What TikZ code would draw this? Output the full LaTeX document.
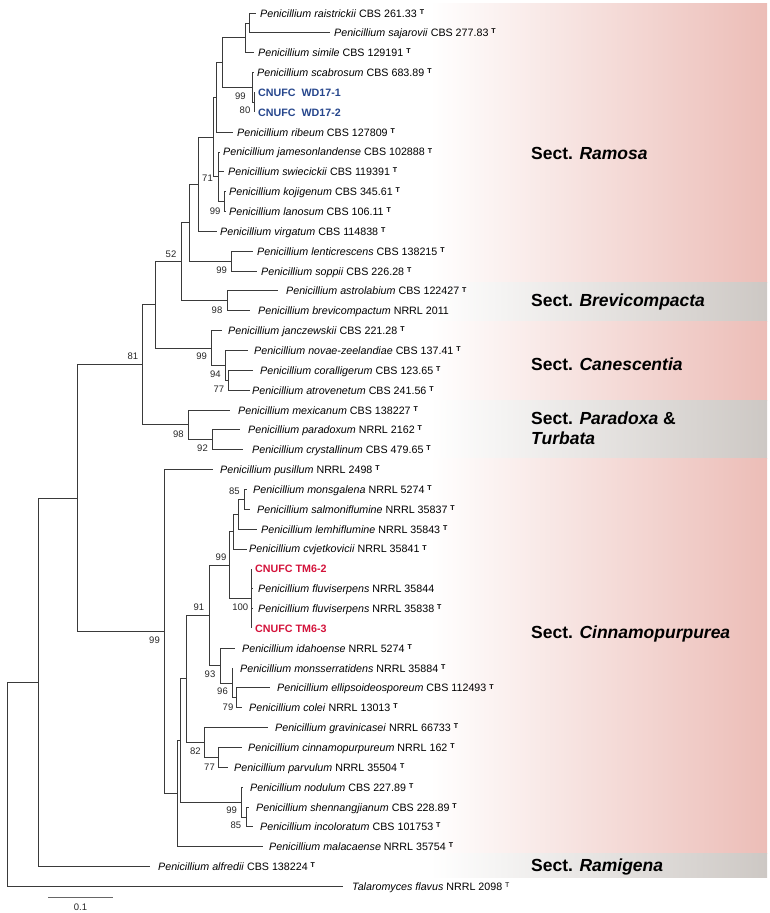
\documentclass[tikz,border=0pt]{standalone}
\usepackage{fontspec}
\setmainfont{Liberation Sans}
\definecolor{pinkR}{HTML}{ECBDB7}
\definecolor{grayR}{HTML}{CDC8C4}
\definecolor{cblue}{HTML}{26468C}
\definecolor{cred}{HTML}{D3123A}
\definecolor{brc}{HTML}{3A3A3A}
\newcommand\tsup{\raisebox{2.9pt}{\fontsize{7}{7}\selectfont\bfseries T}}
\newcommand\Pn[1]{\textit{Penicillium #1}}
\newcommand\leaf[5]{\coordinate (#1) at (#2,{ry(#3)});
  \node[sp] (#1l) at (#4,{ry(#3)+4}) {#5};}
\begin{document}
\begin{tikzpicture}[x=1pt,y=-1pt,
  declare function={ry(\i)=13+(\i-1)*19.85;},
  sp/.style={anchor=base west,inner sep=0pt,font=\fontsize{10.7}{12}\selectfont},
  bs/.style={inner sep=0pt,anchor=center,font=\fontsize{9.5}{10}\selectfont,text=black!85},
  sect/.style={anchor=base west,inner sep=0pt,font=\bfseries\fontsize{17.5}{20}\selectfont},
  br/.style={draw=brc,line width=0.85pt},
  pband/.style={left color=white,right color=pinkR,draw=none},
  gband/.style={left color=white,right color=grayR,draw=none}]
\useasboundingbox (0,0) rectangle (770,913);
% background bands
\shade[pband] (430,3) rectangle (767,282);
\shade[gband] (430,282) rectangle (767,321.5);
\shade[pband] (430,321.5) rectangle (767,400);
\shade[gband] (430,400) rectangle (767,458);
\shade[pband] (430,458) rectangle (767,853);
\shade[gband] (430,853) rectangle (767,877);
% section labels
\node[sect] (s1) at (531,159.5) {Sect. \textit{Ramosa}};
\node[sect] (s2) at (531,306.5) {Sect. \textit{Brevicompacta}};
\node[sect] (s3) at (531,370.5) {Sect. \textit{Canescentia}};
\node[sect] (s4) at (531,424.5) {Sect. \textit{Paradoxa} \&};
\node[sect] (s4b) at (531,444.8) {\textit{Turbata}};
\node[sect] (s5) at (531,638.5) {Sect. \textit{Cinnamopurpurea}};
\node[sect] (s6) at (531,871.5) {Sect. \textit{Ramigena}};
% leaves
\leaf{t1}{256}{1}{260}{\Pn{raistrickii} CBS 261.33 \tsup}
\leaf{t2}{330}{2}{334}{\Pn{sajarovii} CBS 277.83 \tsup}
\leaf{t3}{254}{3}{258}{\Pn{simile} CBS 129191 \tsup}
\leaf{t4}{254}{4}{257}{\Pn{scabrosum} CBS 683.89 \tsup}
\leaf{t5}{254}{5}{258}{\textcolor{cblue}{\bfseries CNUFC\ \ WD17-1}}
\leaf{t6}{254}{6}{258}{\textcolor{cblue}{\bfseries CNUFC\ \ WD17-2}}
\leaf{t7}{233}{7}{237}{\Pn{ribeum} CBS 127809 \tsup}
\leaf{t8}{220}{8}{223}{\Pn{jamesonlandense} CBS 102888 \tsup}
\leaf{t9}{224}{9}{228}{\Pn{swiecickii} CBS 119391 \tsup}
\leaf{t10}{226}{10}{229}{\Pn{kojigenum} CBS 345.61 \tsup}
\leaf{t11}{226}{11}{229}{\Pn{lanosum} CBS 106.11 \tsup}
\leaf{t12}{217}{12}{220}{\Pn{virgatum} CBS 114838 \tsup}
\leaf{t13}{253}{13}{257}{\Pn{lenticrescens} CBS 138215 \tsup}
\leaf{t14}{257}{14}{261}{\Pn{soppii} CBS 226.28 \tsup}
\leaf{t15}{278}{15}{286}{\Pn{astrolabium} CBS 122427 \tsup}
\leaf{t16}{250}{16}{258}{\Pn{brevicompactum} NRRL 2011}
\leaf{t17}{222}{17}{228}{\Pn{janczewskii} CBS 221.28 \tsup}
\leaf{t18}{248}{18}{254}{\Pn{novae-zeelandiae} CBS 137.41 \tsup}
\leaf{t19}{253}{19}{260}{\Pn{coralligerum} CBS 123.65 \tsup}
\leaf{t20}{250}{20}{252}{\Pn{atrovenetum} CBS 241.56 \tsup}
\leaf{t21}{230}{21}{238}{\Pn{mexicanum} CBS 138227 \tsup}
\leaf{t22}{240}{22}{248}{\Pn{paradoxum} NRRL 2162 \tsup}
\leaf{t23}{243}{23}{252}{\Pn{crystallinum} CBS 479.65 \tsup}
\leaf{t24}{213}{24}{220}{\Pn{pusillum} NRRL 2498 \tsup}
\leaf{t25}{247}{25}{253}{\Pn{monsgalena} NRRL 5274 \tsup}
\leaf{t26}{250}{26}{257}{\Pn{salmoniflumine} NRRL 35837 \tsup}
\leaf{t27}{257}{27}{261}{\Pn{lemhiflumine} NRRL 35843 \tsup}
\leaf{t28}{247}{28}{249}{\Pn{cvjetkovicii} NRRL 35841 \tsup}
\leaf{t29}{251}{29}{255}{\textcolor{cred}{\bfseries CNUFC TM6-2}}
\leaf{t30}{253}{30}{258}{\Pn{fluviserpens} NRRL 35844}
\leaf{t31}{253}{31}{258}{\Pn{fluviserpens} NRRL 35838 \tsup}
\leaf{t32}{251}{32}{255}{\textcolor{cred}{\bfseries CNUFC TM6-3}}
\leaf{t33}{235}{33}{242}{\Pn{idahoense} NRRL 5274 \tsup}
\leaf{t34}{233}{34}{240}{\Pn{monsserratidens} NRRL 35884 \tsup}
\leaf{t35}{270}{35}{277}{\Pn{ellipsoideosporeum} CBS 112493 \tsup}
\leaf{t36}{242}{36}{249}{\Pn{colei} NRRL 13013 \tsup}
\leaf{t37}{268}{37}{275}{\Pn{gravinicasei} NRRL 66733 \tsup}
\leaf{t38}{242}{38}{248}{\Pn{cinnamopurpureum} NRRL 162 \tsup}
\leaf{t39}{228}{39}{234}{\Pn{parvulum} NRRL 35504 \tsup}
\leaf{t40}{243}{40}{250}{\Pn{nodulum} CBS 227.89 \tsup}
\leaf{t41}{249}{41}{256}{\Pn{shennangjianum} CBS 228.89 \tsup}
\leaf{t42}{253}{42}{260}{\Pn{incoloratum} CBS 101753 \tsup}
\leaf{t43}{263}{43}{269}{\Pn{malacaense} NRRL 35754 \tsup}
\leaf{t44}{150}{44}{158}{\Pn{alfredii} CBS 138224 \tsup}
\leaf{t45}{343}{45}{352}{\textit{Talaromyces flavus} NRRL 2098 \raisebox{2.9pt}{\fontsize{7}{7}\selectfont T}}
% internal nodes
\coordinate (R1) at (249,{ry(1.5)});
\coordinate (R2) at (245,{ry(2.25)});
\coordinate (S2) at (254,{ry(5.5)});
\coordinate (S1) at (252,{ry(4.75)});
\coordinate (R3) at (222,{ry(3.5)});
\coordinate (R4) at (216,{ry(5.25)});
\coordinate (J2) at (224,{ry(10.5)});
\coordinate (J1) at (218,{ry(9.25)});
\coordinate (R5) at (213,{ry(7.25)});
\coordinate (R6) at (198,{ry(9.625)});
\coordinate (L1) at (231,{ry(13.5)});
\coordinate (R7) at (189,{ry(11.5625)});
\coordinate (B1) at (227,{ry(15.5)});
\coordinate (N52) at (181,{ry(13.5313)});
\coordinate (C3) at (228,{ry(19.5)});
\coordinate (C2) at (225,{ry(18.75)});
\coordinate (C1) at (211,{ry(17.875)});
\coordinate (N155) at (155,{ry(15.7031)});
\coordinate (P2) at (212,{ry(22.5)});
\coordinate (P1) at (188,{ry(21.75)});
\coordinate (N81) at (142,{ry(18.7266)});
\coordinate (M85) at (244,{ry(25.5)});
\coordinate (M2) at (238,{ry(26.25)});
\coordinate (M3) at (233,{ry(27.125)});
\coordinate (F) at (251,{ry(30.5)});
\coordinate (M99) at (229,{ry(28.8125)});
\coordinate (D79) at (236,{ry(35.5)});
\coordinate (D96) at (232,{ry(34.75)});
\coordinate (D93) at (220,{ry(33.875)});
\coordinate (M91) at (209,{ry(31.3438)});
\coordinate (G77) at (218,{ry(38.5)});
\coordinate (G82) at (204,{ry(37.75)});
\coordinate (M186) at (186,{ry(34.5469)});
\coordinate (K85) at (246,{ry(41.5)});
\coordinate (K99) at (241,{ry(40.75)});
\coordinate (M180) at (180,{ry(37.6484)});
\coordinate (M177) at (177,{ry(40.3242)});
\coordinate (Cin) at (164,{ry(32.1621)});
\coordinate (N77) at (77,{ry(25.4443)});
\coordinate (N38) at (38,{ry(34.7222)});
\coordinate (Root) at (7,{ry(39.8611)});
% branches
\draw[br] (R1) |- (t1) (R1) |- (t2);
\draw[br] (R2) |- (R1) (R2) |- (t3);
\draw[br] (S2) |- (t5) (S2) |- (t6);
\draw[br] (S1) |- (t4) (S1) |- (S2);
\draw[br] (R3) |- (R2) (R3) |- (S1);
\draw[br] (R4) |- (R3) (R4) |- (t7);
\draw[br] (J2) |- (t10) (J2) |- (t11);
\draw[br] (J1) |- (t8) (J1) |- (t9) (J1) |- (J2);
\draw[br] (R5) |- (R4) (R5) |- (J1);
\draw[br] (R6) |- (R5) (R6) |- (t12);
\draw[br] (L1) |- (t13) (L1) |- (t14);
\draw[br] (R7) |- (R6) (R7) |- (L1);
\draw[br] (B1) |- (t15) (B1) |- (t16);
\draw[br] (N52) |- (R7) (N52) |- (B1);
\draw[br] (C3) |- (t19) (C3) |- (t20);
\draw[br] (C2) |- (t18) (C2) |- (C3);
\draw[br] (C1) |- (t17) (C1) |- (C2);
\draw[br] (N155) |- (N52) (N155) |- (C1);
\draw[br] (P2) |- (t22) (P2) |- (t23);
\draw[br] (P1) |- (t21) (P1) |- (P2);
\draw[br] (N81) |- (N155) (N81) |- (P1);
\draw[br] (M85) |- (t25) (M85) |- (t26);
\draw[br] (M2) |- (M85) (M2) |- (t27);
\draw[br] (M3) |- (M2) (M3) |- (t28);
\draw[br] (F) |- (t29) (F) |- (t30) (F) |- (t31) (F) |- (t32);
\draw[br] (M99) |- (M3) (M99) |- (F);
\draw[br] (D79) |- (t35) (D79) |- (t36);
\draw[br] (D96) |- (t34) (D96) |- (D79);
\draw[br] (D93) |- (t33) (D93) |- (D96);
\draw[br] (M91) |- (M99) (M91) |- (D93);
\draw[br] (G77) |- (t38) (G77) |- (t39);
\draw[br] (G82) |- (t37) (G82) |- (G77);
\draw[br] (M186) |- (M91) (M186) |- (G82);
\draw[br] (K85) |- (t41) (K85) |- (t42);
\draw[br] (K99) |- (t40) (K99) |- (K85);
\draw[br] (M180) |- (M186) (M180) |- (K99);
\draw[br] (M177) |- (M180) (M177) |- (t43);
\draw[br] (Cin) |- (t24) (Cin) |- (M177);
\draw[br] (N77) |- (N81) (N77) |- (Cin);
\draw[br] (N38) |- (N77) (N38) |- (t44);
\draw[br] (Root) |- (N38) (Root) |- (t45);
% bootstrap values
\node[bs] (b1) at (240.3,96.7) {99};
\node[bs] (b2) at (245,110) {80};
\node[bs] (b3) at (207.5,178.3) {71};
\node[bs] (b4) at (215.2,211) {99};
\node[bs] (b5) at (171,254.3) {52};
\node[bs] (b6) at (221.7,270) {99};
\node[bs] (b7) at (217,310) {98};
\node[bs] (b8) at (132.8,356.7) {81};
\node[bs] (b9) at (201.7,356.7) {99};
\node[bs] (b10) at (215.3,374) {94};
\node[bs] (b11) at (218.8,389.3) {77};
\node[bs] (b12) at (178.3,434) {98};
\node[bs] (b13) at (202.5,448.3) {92};
\node[bs] (b14) at (234.3,491.7) {85};
\node[bs] (b15) at (221,557.7) {99};
\node[bs] (b16) at (198.8,607) {91};
\node[bs] (b17) at (240.3,607) {100};
\node[bs] (b18) at (154.5,640) {99};
\node[bs] (b19) at (210,674.3) {93};
\node[bs] (b20) at (222.5,691.7) {96};
\node[bs] (b21) at (228,707.3) {79};
\node[bs] (b22) at (195.3,751) {82};
\node[bs] (b23) at (209.5,767.7) {77};
\node[bs] (b24) at (231.7,810.7) {99};
\node[bs] (b25) at (235.8,825.7) {85};
% scale bar
\coordinate (sb1) at (48,897);
\coordinate (sb2) at (113,897);
\draw[br,draw=black!60] (sb1) -- (sb2);
\node[bs] (sbl) at (80.5,907) {0.1};
\end{tikzpicture}
\end{document}
